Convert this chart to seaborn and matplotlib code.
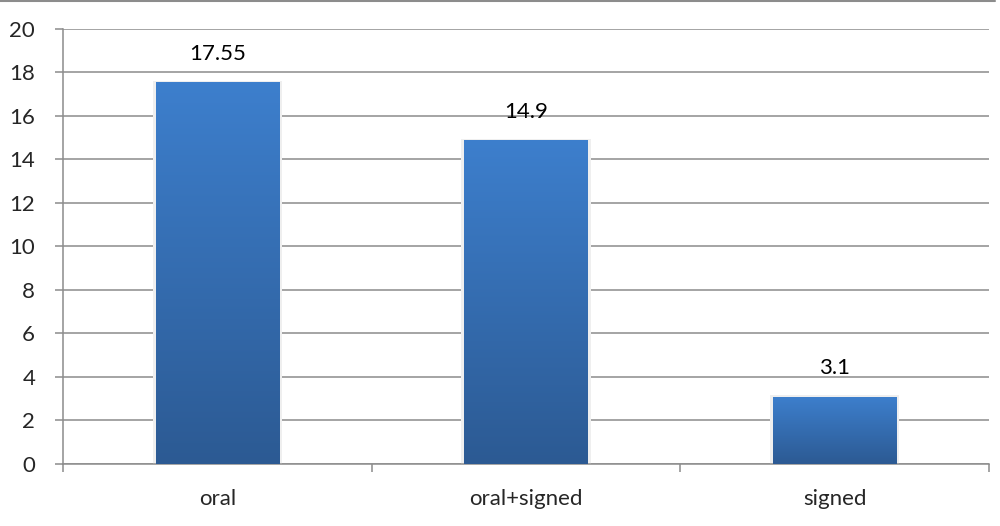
import numpy as np
import pandas as pd
import matplotlib
matplotlib.use("Agg")
import matplotlib.pyplot as plt
import seaborn as sns
from matplotlib.colors import LinearSegmentedColormap
from matplotlib.lines import Line2D

# Data
categories = ["oral", "oral+signed", "signed"]
values = [17.55, 14.9, 3.1]
labels = ["17.55", "14.9", "3.1"]

df = pd.DataFrame({"cat": categories, "val": values})

sns.set_style("white")
plt.rcParams['font.family'] = ['Lato', 'DejaVu Sans']

fig = plt.figure(figsize=(10, 5.26), dpi=100)
ax = fig.add_axes([0.063, 0.118, 0.926, 0.827])

sns.barplot(data=df, x="cat", y="val", color="#3a78c4", width=0.4,
            saturation=1, linewidth=0, ax=ax, zorder=3)

# gradient fill on each bar
cmap = LinearSegmentedColormap.from_list("bar", ["#2c5a93", "#3d7fcd"])
grad = np.linspace(0, 1, 256).reshape(-1, 1)
for p in ax.patches:
    x0, y0 = p.get_x(), p.get_y()
    w, h = p.get_width(), p.get_height()
    # soft shadow
    ax.add_patch(plt.Rectangle((x0 - 0.01, y0), w + 0.02, h + 0.06,
                               color="#efefef", zorder=2, lw=0))
    im = ax.imshow(grad, cmap=cmap, aspect="auto", origin="lower",
                   extent=[x0, x0 + w, y0, y0 + h], zorder=4)
    im.set_clip_path(p)

for i, (v, t) in enumerate(zip(values, labels)):
    ax.annotate(t, (i, v), xytext=(0, 13), textcoords="offset points",
                ha="center", va="bottom", fontsize=16, color="black")

ax.set_xlim(-0.5, 2.5)
ax.set_ylim(0, 20)
ax.set_yticks(range(0, 21, 2))
ax.set_xlabel("")
ax.set_ylabel("")

grid_c = "#8c8c8c"
ax.yaxis.grid(True, color=grid_c, linewidth=1.1, zorder=0)
ax.set_axisbelow(True)
for s in ["top", "right"]:
    ax.spines[s].set_visible(False)
for s in ["left", "bottom"]:
    ax.spines[s].set_color(grid_c)
    ax.spines[s].set_linewidth(1.1)

ax.tick_params(axis="y", length=6, width=1.1, color=grid_c, labelsize=16,
               pad=14, left=True)
ax.tick_params(axis="x", length=0, labelsize=16, pad=18)
ax.set_xticks([-0.5, 0.5, 1.5, 2.5], minor=True)
ax.tick_params(axis="x", which="minor", length=6, width=1.1, color=grid_c,
               bottom=True)

# chart border line at top
fig.add_artist(Line2D([0, 0.995], [0.999, 0.999], color="#8c8c8c", lw=1.5,
                      transform=fig.transFigure))

fig.savefig("out.png", dpi=100)
